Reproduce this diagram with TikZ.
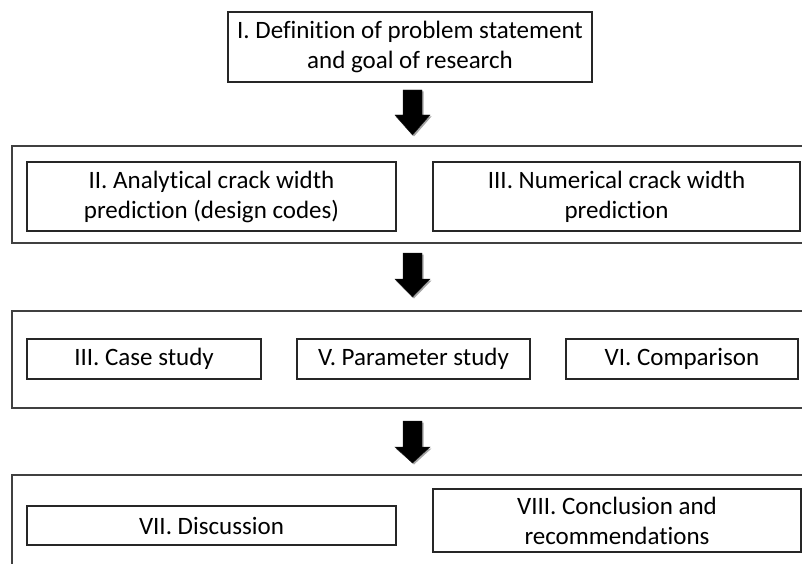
\documentclass[tikz,border=0pt]{standalone}
\usepackage{fontspec}
\setmainfont[Ligatures=NoCommon]{Carlito}
\begin{document}
\begin{tikzpicture}[x=1pt,y=-1pt,
  box/.style={draw=black!85, line width=1.1pt, fill=white, inner sep=0pt, align=center,
    font=\fontsize{25}{30}\selectfont, text=black},
  grp/.style={draw=black!75, line width=1.2pt},
  blockarrow/.style={fill=black, draw=black!90, line width=0.4pt}]
\useasboundingbox (0,0) rectangle (802,564);
\begin{scope}
\clip (0,0) rectangle (802,564);
% group frames (cut by the picture's right and bottom edges)
\draw[grp] (12,146) rectangle (830,243);
\draw[grp] (12,311) rectangle (830,408);
\draw[grp] (12,475) rectangle (830,600);
\end{scope}
% boxes
\node[box, minimum width=364pt, minimum height=70pt] (b1) at (410,47) {I. Definition of problem statement\\and goal of research};
\node[box, minimum width=369pt, minimum height=69pt] (b2) at (211.5,196.5) {II. Analytical crack width\\prediction (design codes)};
\node[box, minimum width=367pt, minimum height=69pt] (b3) at (616.5,196.5) {III. Numerical crack width\\prediction};
\node[box, minimum width=234pt, minimum height=40pt] (b4) at (144,359) {III. Case study};
\node[box, minimum width=233pt, minimum height=40pt] (b5) at (413.5,359) {V. Parameter study};
\node[box, minimum width=232pt, minimum height=40pt] (b6) at (682,359) {VI. Comparison};
\node[box, minimum width=369pt, minimum height=39pt] (b7) at (211.5,525.5) {VII. Discussion};
\node[box, minimum width=368pt, minimum height=63pt] (b8) at (617,520.5) {VIII. Conclusion and\\recommendations};
% block arrows
\foreach \n/\t/\h/\p in {a1/90/115/135, a2/253/279/297, a3/421/447/463}{
  \coordinate (\n) at (412.5,\t);
  \fill[black!35] ([xshift=1.5pt,yshift=-1.5pt]\n) ++(-9.5,0) -- ++(19,0) |- ++(8,\h-\t) -- (414,\p+1.5) -- ++(-18.5,\t-\p+\h-\t) -- ++(0,0) -| cycle;
  \draw[blockarrow] (\n) ++(-9.5,0) -- ++(19,0) -- ++(0,\h-\t) -- ++(8,0) -- (412.5,\p) -- (395,\h) -- ++(8,0) -- cycle;
}
\end{tikzpicture}
\end{document}
